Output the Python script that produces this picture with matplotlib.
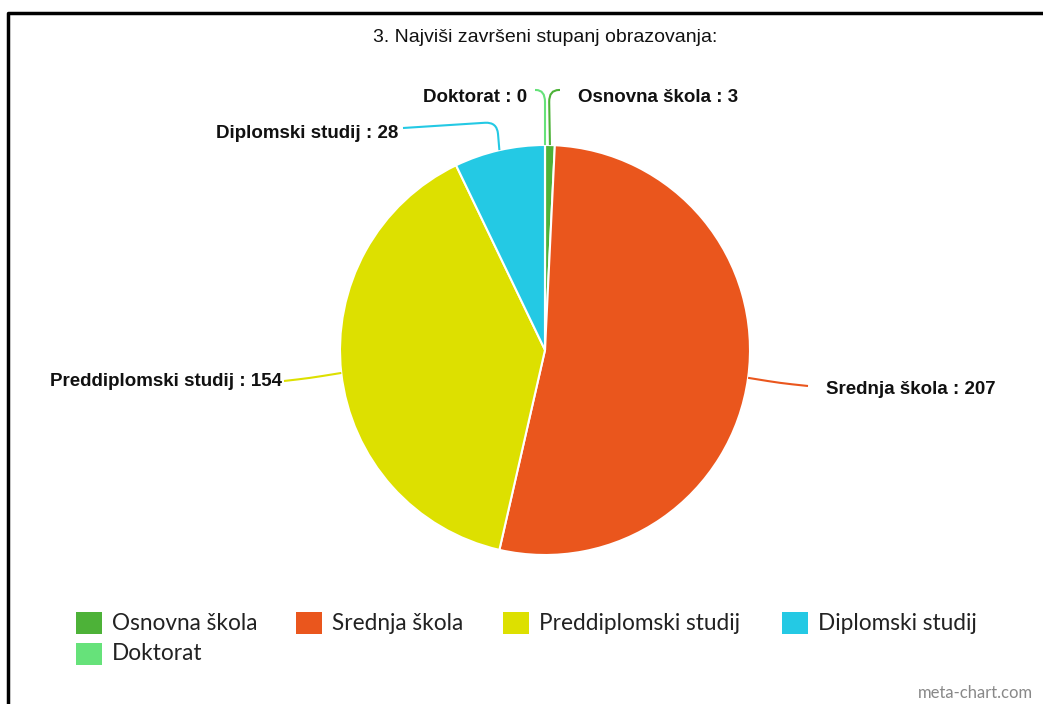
import numpy as np
import matplotlib
matplotlib.use('Agg')
import matplotlib.pyplot as plt
from matplotlib.path import Path
from matplotlib.patches import PathPatch, Rectangle

# data
categories = ['Osnovna škola', 'Srednja škola', 'Preddiplomski studij', 'Diplomski studij', 'Doktorat']
counts = [3, 207, 154, 28, 0]
colors = ['#4db238', '#ea561d', '#dde000', '#24c9e4', '#66e27a']
title = '3. Najviši završeni stupanj obrazovanja:'

fig = plt.figure(figsize=(10.43, 7.04), dpi=100)
ax = fig.add_axes([0, 0, 1, 1])

# y axis is flipped (pixel-like), so start at -90 and go "counterclock" -> clockwise on screen
cx, cy, r = 545, 350, 205
wedges, _ = ax.pie(counts, colors=colors, startangle=-90, counterclock=True,
                   center=(cx, cy), radius=r,
                   wedgeprops=dict(edgecolor='white', linewidth=1.5))
ax.set_xlim(0, 1043)
ax.set_ylim(704, 0)
ax.set_aspect('auto')
ax.axis('off')

# label layout: (elbow, end of leader, text pos, ha)
label_layout = [
    ((549, 90), (560, 90), (578, 97), 'left'),
    ((780, 383), (808, 386), (826, 389), 'left'),
    ((310, 378), (284, 381), (282, 381), 'right'),
    ((497, 122), (403, 128), (398, 133), 'right'),
    ((545, 90), (535, 90), (527, 97), 'right'),
]


def leader(p, k, e, rr=12):
    p, k, e = np.array(p, float), np.array(k, float), np.array(e, float)
    d1 = k - p
    d2 = e - k
    l1 = min(rr, np.linalg.norm(d1) * 0.5)
    l2 = min(rr, np.linalg.norm(d2) * 0.9)
    a = k - d1 / np.linalg.norm(d1) * l1
    b = k + d2 / np.linalg.norm(d2) * l2
    verts = [p, a, k, b, e]
    codes = [Path.MOVETO, Path.LINETO, Path.CURVE3, Path.CURVE3, Path.LINETO]
    return Path(verts, codes)


for w, name, val, col, (k, e, tp, ha) in zip(wedges, categories, counts, colors, label_layout):
    mid = np.deg2rad((w.theta1 + w.theta2) / 2)
    p = (cx + r * np.cos(mid), cy + r * np.sin(mid))
    ax.add_patch(PathPatch(leader(p, k, e), fill=False, edgecolor=col, linewidth=1.5))
    ax.text(tp[0], tp[1], f'{name} : {val}', ha=ha, va='center',
            fontsize=13.5, fontweight='bold', family='Liberation Sans', color='#111111')

ax.text(545, 37, title, ha='center', va='center', fontsize=14,
        family=['Liberation Sans Narrow', 'Liberation Sans'], color='#111111')

# legend drawn row-wise
leg_x = [76, 296, 503, 782, 76]
leg_y = [623, 623, 623, 623, 654]
for name, col, lx, ly in zip(categories, colors, leg_x, leg_y):
    ax.add_patch(Rectangle((lx, ly - 11), 26, 22, facecolor=col, edgecolor='none'))
    ax.text(lx + 36, ly, name, ha='left', va='center', fontsize=16.3,
            family='Lato', color='#222222')

ax.text(1033, 693, 'meta-chart.com', ha='right', va='center', fontsize=12,
        family='Lato', color='#888888')

# frame
ax.plot([8, 8, 1043], [704, 13, 13], color='black', linewidth=2.5, solid_capstyle='butt')

fig.savefig('out.png', dpi=100)
